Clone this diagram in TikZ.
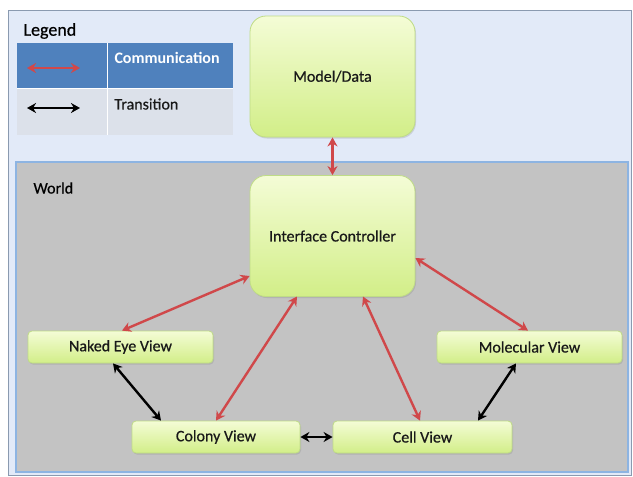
\documentclass[tikz,border=0pt]{standalone}
\usepackage{fontspec}
\setmainfont{Carlito}
\newfontfamily\heavyfont[FakeBold=0.6]{Carlito}
\usetikzlibrary{arrows.meta,shadows}
\definecolor{outerbg}{HTML}{E2EAF8}
\definecolor{outerline}{HTML}{8A9AB0}
\definecolor{worldbg}{HTML}{C3C3C3}
\definecolor{worldline}{HTML}{8DB4E2}
\definecolor{legblue}{HTML}{4F81BD}
\definecolor{leggrey}{HTML}{DCE1EA}
\definecolor{redarr}{HTML}{D0484A}
\definecolor{boxtop}{HTML}{F4FCD6}
\definecolor{boxbot}{HTML}{D2EE88}
\definecolor{boxline}{HTML}{BFDC86}
\tikzset{
  px/.style={x=1pt,y=-1pt},
  viewbox/.style={draw=boxline, line width=0.8pt, rounded corners=4pt,
    top color=boxtop, bottom color=boxbot, minimum height=32pt,
    font=\heavyfont\fontsize{16}{18}\selectfont, text=black!90,
    drop shadow={shadow xshift=1pt, shadow yshift=-1.5pt, opacity=0.25}},
  bigbox/.style={draw=boxline, line width=0.8pt, rounded corners=16pt,
    top color=boxtop, bottom color=boxbot, minimum width=165pt, minimum height=121pt,
    font=\heavyfont\fontsize{16}{18}\selectfont, text=black!90,
    drop shadow={shadow xshift=1pt, shadow yshift=-1.5pt, opacity=0.25}},
  comm/.style={draw=redarr, line width=2.4pt, {Stealth[length=9pt,width=10pt]}-{Stealth[length=9pt,width=10pt]}},
  trans/.style={draw=black, line width=2.4pt, {Stealth[length=9pt,width=10pt]}-{Stealth[length=9pt,width=10pt]}},
  lbl/.style={font=\heavyfont\fontsize{16}{18}\selectfont, anchor=west}
}
\begin{document}
\begin{tikzpicture}[px]
\useasboundingbox (0,0) rectangle (633,477);
\fill[white] (0,0) rectangle (633,477);
% outer frame
\draw[outerline, fill=outerbg, line width=0.8pt] (8,10) rectangle (631,475);
% world
\draw[worldline, fill=worldbg, line width=1.2pt] (16,162) rectangle (628,472);
\node[lbl] (world) at (30,188) {World};
% legend
\node[lbl, font=\heavyfont\fontsize{18}{20}\selectfont] (legend) at (20,31) {Legend};
\fill[legblue] (17,43) rectangle (233,88);
\fill[leggrey] (17,89) rectangle (233,135);
\draw[white, line width=1pt] (107,43) -- (107,135);
\draw[white, line width=1pt] (17,88.5) -- (233,88.5);
\coordinate (c1a) at (27,68); \coordinate (c1b) at (80,68);
\coordinate (t1a) at (27,108); \coordinate (t1b) at (80,108);
\draw[comm, line width=2pt] (c1a) -- (c1b);
\draw[trans, line width=2.2pt] (t1a) -- (t1b);
\node[lbl, text=white, font=\fontsize{16}{18}\selectfont\bfseries] (lcomm) at (111,58) {Communication};
\node[lbl, text=black!90] (ltrans) at (111,104) {Transition};
% nodes
\node[bigbox] (md) at (332.5,76.5) {Model/Data};
\node[bigbox] (ic) at (332.5,236) {Interface Controller};
\node[viewbox, minimum width=185pt] (ne) at (120.5,347) {Naked Eye View};
\node[viewbox, minimum width=168pt] (co) at (216,437) {Colony View};
\node[viewbox, minimum width=179pt] (ce) at (422.5,437) {Cell View};
\node[viewbox, minimum width=185pt] (mo) at (529.5,347) {Molecular View};
% connectors
\draw[comm] (md.south) -- (ic.north);
\draw[comm] (ic.west |- 0,276) -- (ne.north -| 122,0);
\draw[comm] (297,296.5) -- (co.north -| 216,0);
\draw[comm] (363,296.5) -- (ce.north -| 420,0);
\draw[comm] (ic.east |- 0,258) -- (mo.north -| 528,0);
\draw[trans] (ne.south -| 113,0) -- (co.north -| 161,0);
\draw[trans] (mo.south -| 516,0) -- (ce.north -| 478,0);
\draw[trans] (co.east) -- (ce.west);
\end{tikzpicture}
\end{document}
